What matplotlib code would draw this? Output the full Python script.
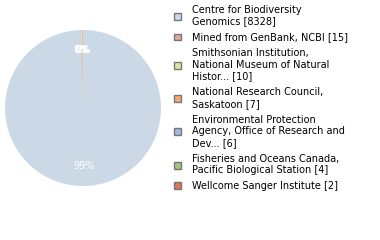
import matplotlib.pyplot as plt
from matplotlib.patches import Patch

labels = [
    "Centre for Biodiversity\nGenomics [8328]",
    "Mined from GenBank, NCBI [15]",
    "Smithsonian Institution,\nNational Museum of Natural\nHistor... [10]",
    "National Research Council,\nSaskatoon [7]",
    "Environmental Protection\nAgency, Office of Research and\nDev... [6]",
    "Fisheries and Oceans Canada,\nPacific Biological Station [4]",
    "Wellcome Sanger Institute [2]",
]
counts = [8328, 15, 10, 7, 6, 4, 2]
colors = ["#cbd8e6", "#e3a59b", "#dde59f", "#f3a96a", "#9cb8de", "#9dc77a", "#e07456"]

fig = plt.figure(figsize=(3.8, 2.4), dpi=100)
ax = fig.add_axes([5 / 380, 54 / 240, 156 / 380, 156 / 240])

wedges, texts, autotexts = ax.pie(
    counts, colors=colors, startangle=90, counterclock=False,
    autopct="%1.0f%%", pctdistance=0.75, radius=1,
    wedgeprops=dict(linewidth=0),
    textprops=dict(color="white", fontsize=7),
)
ax.set_xlim(-1, 1)
ax.set_ylim(-1, 1)
ax.set_aspect("equal")
ax.axis("off")

handles = [Patch(facecolor=c, edgecolor="#777777", linewidth=1) for c in colors]
fig.legend(
    handles, labels, loc="upper left", bbox_to_anchor=(172 / 380, 1 - 3 / 240),
    frameon=False, fontsize=7, handlelength=0.72, handleheight=0.72,
    handletextpad=1.1, labelspacing=0.6, borderaxespad=0, borderpad=0.2,
)

plt.savefig("out.png", dpi=100)
